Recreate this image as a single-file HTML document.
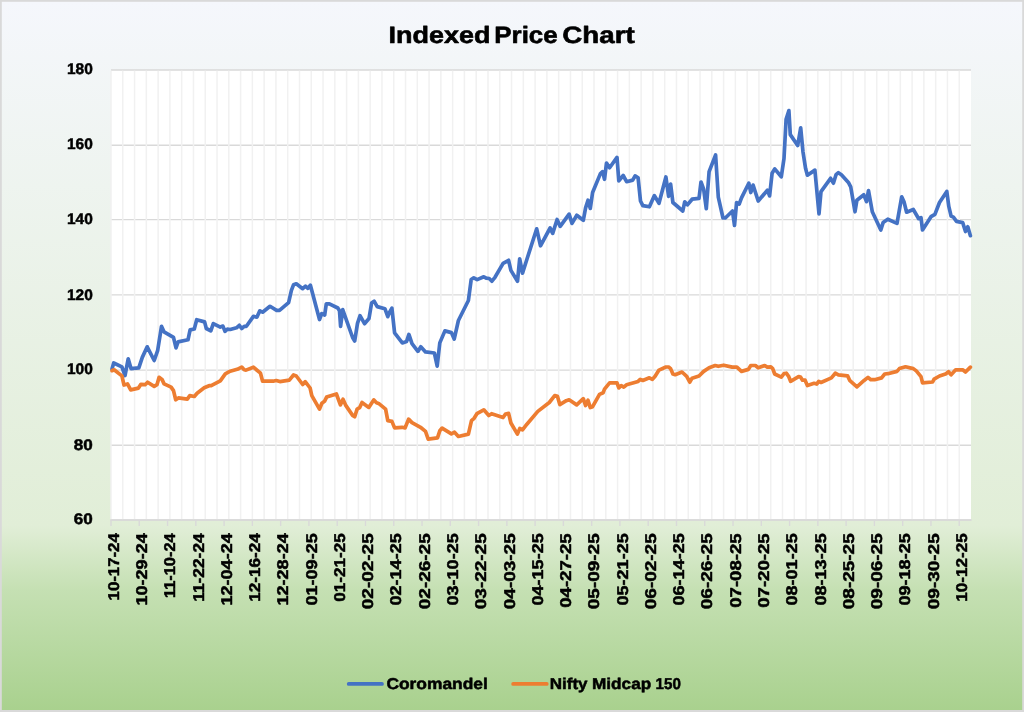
<!DOCTYPE html>
<html><head><meta charset="utf-8"><title>Indexed Price Chart</title>
<style>
html,body{margin:0;padding:0;background:#fff;}
body{width:1024px;height:712px;overflow:hidden;font-family:"Liberation Sans",sans-serif;}
svg{display:block;}
text{font-family:"Liberation Sans",sans-serif;font-weight:bold;fill:#000;text-rendering:geometricPrecision;}
svg{will-change:transform;}
</style></head><body>
<svg width="1024" height="712" viewBox="0 0 1024 712">
<defs>
<linearGradient id="bg" x1="0" y1="0" x2="0" y2="1">
<stop offset="0" stop-color="#F5F7FC"/>
<stop offset="0.74" stop-color="#E1EED7"/>
<stop offset="0.83" stop-color="#C5E0B3"/>
<stop offset="1" stop-color="#A9D18E"/>
</linearGradient>
</defs>
<rect x="0" y="0" width="1024" height="712" fill="#D9D9D9"/>
<rect x="1.8" y="1.8" width="1020.4" height="708.2" fill="url(#bg)"/>

<rect x="111.0" y="70.0" width="860.0" height="450.0" fill="#FFFFFF"/>
<g stroke="#D9D9D9" stroke-width="1.4">
<line x1="111.0" y1="70.0" x2="971.0" y2="70.0"/>
<line x1="111.0" y1="145.3" x2="971.0" y2="145.3"/>
<line x1="111.0" y1="219.6" x2="971.0" y2="219.6"/>
<line x1="111.0" y1="294.9" x2="971.0" y2="294.9"/>
<line x1="111.0" y1="370.1" x2="971.0" y2="370.1"/>
<line x1="111.0" y1="445.2" x2="971.0" y2="445.2"/>
<line x1="111.0" y1="520.0" x2="971.0" y2="520.0"/>
</g>
<g stroke="#F1F1F1" stroke-width="1.5">
<line x1="111.00" y1="70.7" x2="111.00" y2="519.3"/>
<line x1="122.78" y1="70.7" x2="122.78" y2="519.3"/>
<line x1="134.56" y1="70.7" x2="134.56" y2="519.3"/>
<line x1="146.34" y1="70.7" x2="146.34" y2="519.3"/>
<line x1="158.12" y1="70.7" x2="158.12" y2="519.3"/>
<line x1="169.90" y1="70.7" x2="169.90" y2="519.3"/>
<line x1="181.68" y1="70.7" x2="181.68" y2="519.3"/>
<line x1="193.47" y1="70.7" x2="193.47" y2="519.3"/>
<line x1="205.25" y1="70.7" x2="205.25" y2="519.3"/>
<line x1="217.03" y1="70.7" x2="217.03" y2="519.3"/>
<line x1="228.81" y1="70.7" x2="228.81" y2="519.3"/>
<line x1="240.59" y1="70.7" x2="240.59" y2="519.3"/>
<line x1="252.37" y1="70.7" x2="252.37" y2="519.3"/>
<line x1="264.15" y1="70.7" x2="264.15" y2="519.3"/>
<line x1="275.93" y1="70.7" x2="275.93" y2="519.3"/>
<line x1="287.71" y1="70.7" x2="287.71" y2="519.3"/>
<line x1="299.49" y1="70.7" x2="299.49" y2="519.3"/>
<line x1="311.27" y1="70.7" x2="311.27" y2="519.3"/>
<line x1="323.05" y1="70.7" x2="323.05" y2="519.3"/>
<line x1="334.84" y1="70.7" x2="334.84" y2="519.3"/>
<line x1="346.62" y1="70.7" x2="346.62" y2="519.3"/>
<line x1="358.40" y1="70.7" x2="358.40" y2="519.3"/>
<line x1="370.18" y1="70.7" x2="370.18" y2="519.3"/>
<line x1="381.96" y1="70.7" x2="381.96" y2="519.3"/>
<line x1="393.74" y1="70.7" x2="393.74" y2="519.3"/>
<line x1="405.52" y1="70.7" x2="405.52" y2="519.3"/>
<line x1="417.30" y1="70.7" x2="417.30" y2="519.3"/>
<line x1="429.08" y1="70.7" x2="429.08" y2="519.3"/>
<line x1="440.86" y1="70.7" x2="440.86" y2="519.3"/>
<line x1="452.64" y1="70.7" x2="452.64" y2="519.3"/>
<line x1="464.42" y1="70.7" x2="464.42" y2="519.3"/>
<line x1="476.21" y1="70.7" x2="476.21" y2="519.3"/>
<line x1="487.99" y1="70.7" x2="487.99" y2="519.3"/>
<line x1="499.77" y1="70.7" x2="499.77" y2="519.3"/>
<line x1="511.55" y1="70.7" x2="511.55" y2="519.3"/>
<line x1="523.33" y1="70.7" x2="523.33" y2="519.3"/>
<line x1="535.11" y1="70.7" x2="535.11" y2="519.3"/>
<line x1="546.89" y1="70.7" x2="546.89" y2="519.3"/>
<line x1="558.67" y1="70.7" x2="558.67" y2="519.3"/>
<line x1="570.45" y1="70.7" x2="570.45" y2="519.3"/>
<line x1="582.23" y1="70.7" x2="582.23" y2="519.3"/>
<line x1="594.01" y1="70.7" x2="594.01" y2="519.3"/>
<line x1="605.79" y1="70.7" x2="605.79" y2="519.3"/>
<line x1="617.58" y1="70.7" x2="617.58" y2="519.3"/>
<line x1="629.36" y1="70.7" x2="629.36" y2="519.3"/>
<line x1="641.14" y1="70.7" x2="641.14" y2="519.3"/>
<line x1="652.92" y1="70.7" x2="652.92" y2="519.3"/>
<line x1="664.70" y1="70.7" x2="664.70" y2="519.3"/>
<line x1="676.48" y1="70.7" x2="676.48" y2="519.3"/>
<line x1="688.26" y1="70.7" x2="688.26" y2="519.3"/>
<line x1="700.04" y1="70.7" x2="700.04" y2="519.3"/>
<line x1="711.82" y1="70.7" x2="711.82" y2="519.3"/>
<line x1="723.60" y1="70.7" x2="723.60" y2="519.3"/>
<line x1="735.38" y1="70.7" x2="735.38" y2="519.3"/>
<line x1="747.16" y1="70.7" x2="747.16" y2="519.3"/>
<line x1="758.95" y1="70.7" x2="758.95" y2="519.3"/>
<line x1="770.73" y1="70.7" x2="770.73" y2="519.3"/>
<line x1="782.51" y1="70.7" x2="782.51" y2="519.3"/>
<line x1="794.29" y1="70.7" x2="794.29" y2="519.3"/>
<line x1="806.07" y1="70.7" x2="806.07" y2="519.3"/>
<line x1="817.85" y1="70.7" x2="817.85" y2="519.3"/>
<line x1="829.63" y1="70.7" x2="829.63" y2="519.3"/>
<line x1="841.41" y1="70.7" x2="841.41" y2="519.3"/>
<line x1="853.19" y1="70.7" x2="853.19" y2="519.3"/>
<line x1="864.97" y1="70.7" x2="864.97" y2="519.3"/>
<line x1="876.75" y1="70.7" x2="876.75" y2="519.3"/>
<line x1="888.53" y1="70.7" x2="888.53" y2="519.3"/>
<line x1="900.32" y1="70.7" x2="900.32" y2="519.3"/>
<line x1="912.10" y1="70.7" x2="912.10" y2="519.3"/>
<line x1="923.88" y1="70.7" x2="923.88" y2="519.3"/>
<line x1="935.66" y1="70.7" x2="935.66" y2="519.3"/>
<line x1="947.44" y1="70.7" x2="947.44" y2="519.3"/>
<line x1="959.22" y1="70.7" x2="959.22" y2="519.3"/>
</g>
<line x1="110.3" y1="520.0" x2="971.7" y2="520.0" stroke="#D9D9D9" stroke-width="1.4"/>
<g stroke="#D9D9D9" stroke-width="1.4">
<line x1="111.00" y1="520.0" x2="111.00" y2="526.0"/>
<line x1="139.27" y1="520.0" x2="139.27" y2="526.0"/>
<line x1="167.55" y1="520.0" x2="167.55" y2="526.0"/>
<line x1="195.82" y1="520.0" x2="195.82" y2="526.0"/>
<line x1="224.10" y1="520.0" x2="224.10" y2="526.0"/>
<line x1="252.37" y1="520.0" x2="252.37" y2="526.0"/>
<line x1="280.64" y1="520.0" x2="280.64" y2="526.0"/>
<line x1="308.92" y1="520.0" x2="308.92" y2="526.0"/>
<line x1="337.19" y1="520.0" x2="337.19" y2="526.0"/>
<line x1="365.47" y1="520.0" x2="365.47" y2="526.0"/>
<line x1="393.74" y1="520.0" x2="393.74" y2="526.0"/>
<line x1="422.01" y1="520.0" x2="422.01" y2="526.0"/>
<line x1="450.29" y1="520.0" x2="450.29" y2="526.0"/>
<line x1="478.56" y1="520.0" x2="478.56" y2="526.0"/>
<line x1="506.84" y1="520.0" x2="506.84" y2="526.0"/>
<line x1="535.11" y1="520.0" x2="535.11" y2="526.0"/>
<line x1="563.38" y1="520.0" x2="563.38" y2="526.0"/>
<line x1="591.66" y1="520.0" x2="591.66" y2="526.0"/>
<line x1="619.93" y1="520.0" x2="619.93" y2="526.0"/>
<line x1="648.21" y1="520.0" x2="648.21" y2="526.0"/>
<line x1="676.48" y1="520.0" x2="676.48" y2="526.0"/>
<line x1="704.75" y1="520.0" x2="704.75" y2="526.0"/>
<line x1="733.03" y1="520.0" x2="733.03" y2="526.0"/>
<line x1="761.30" y1="520.0" x2="761.30" y2="526.0"/>
<line x1="789.58" y1="520.0" x2="789.58" y2="526.0"/>
<line x1="817.85" y1="520.0" x2="817.85" y2="526.0"/>
<line x1="846.12" y1="520.0" x2="846.12" y2="526.0"/>
<line x1="874.40" y1="520.0" x2="874.40" y2="526.0"/>
<line x1="902.67" y1="520.0" x2="902.67" y2="526.0"/>
<line x1="930.95" y1="520.0" x2="930.95" y2="526.0"/>
<line x1="959.22" y1="520.0" x2="959.22" y2="526.0"/>
</g>
<g font-size="15.3" text-anchor="end" stroke="#000" stroke-width="0.5" stroke-linejoin="round">
<text x="92.8" y="74.1" textLength="25.8" lengthAdjust="spacingAndGlyphs">180</text>
<text x="92.8" y="149.2" textLength="25.8" lengthAdjust="spacingAndGlyphs">160</text>
<text x="92.8" y="224.3" textLength="25.8" lengthAdjust="spacingAndGlyphs">140</text>
<text x="92.8" y="299.9" textLength="25.8" lengthAdjust="spacingAndGlyphs">120</text>
<text x="92.8" y="374.1" textLength="25.8" lengthAdjust="spacingAndGlyphs">100</text>
<text x="92.8" y="450.1" textLength="19.0" lengthAdjust="spacingAndGlyphs">80</text>
<text x="92.8" y="524.4" textLength="19.0" lengthAdjust="spacingAndGlyphs">60</text>
</g>
<g font-size="15.6" text-anchor="end" stroke="#000" stroke-width="0.5" stroke-linejoin="round">
<text transform="translate(118.70,533.3) rotate(-90)" textLength="67.1" lengthAdjust="spacingAndGlyphs">10-17-24</text>
<text transform="translate(146.97,533.3) rotate(-90)" textLength="72.2" lengthAdjust="spacingAndGlyphs">10-29-24</text>
<text transform="translate(175.25,533.3) rotate(-90)" textLength="64.8" lengthAdjust="spacingAndGlyphs">11-10-24</text>
<text transform="translate(203.52,533.3) rotate(-90)" textLength="68.5" lengthAdjust="spacingAndGlyphs">11-22-24</text>
<text transform="translate(231.80,533.3) rotate(-90)" textLength="72.2" lengthAdjust="spacingAndGlyphs">12-04-24</text>
<text transform="translate(260.07,533.3) rotate(-90)" textLength="68.5" lengthAdjust="spacingAndGlyphs">12-16-24</text>
<text transform="translate(288.34,533.3) rotate(-90)" textLength="72.2" lengthAdjust="spacingAndGlyphs">12-28-24</text>
<text transform="translate(316.62,533.3) rotate(-90)" textLength="72.2" lengthAdjust="spacingAndGlyphs">01-09-25</text>
<text transform="translate(344.89,533.3) rotate(-90)" textLength="68.5" lengthAdjust="spacingAndGlyphs">01-21-25</text>
<text transform="translate(373.17,533.3) rotate(-90)" textLength="75.9" lengthAdjust="spacingAndGlyphs">02-02-25</text>
<text transform="translate(401.44,533.3) rotate(-90)" textLength="72.2" lengthAdjust="spacingAndGlyphs">02-14-25</text>
<text transform="translate(429.71,533.3) rotate(-90)" textLength="75.9" lengthAdjust="spacingAndGlyphs">02-26-25</text>
<text transform="translate(457.99,533.3) rotate(-90)" textLength="72.2" lengthAdjust="spacingAndGlyphs">03-10-25</text>
<text transform="translate(486.26,533.3) rotate(-90)" textLength="75.9" lengthAdjust="spacingAndGlyphs">03-22-25</text>
<text transform="translate(514.54,533.3) rotate(-90)" textLength="75.9" lengthAdjust="spacingAndGlyphs">04-03-25</text>
<text transform="translate(542.81,533.3) rotate(-90)" textLength="72.2" lengthAdjust="spacingAndGlyphs">04-15-25</text>
<text transform="translate(571.08,533.3) rotate(-90)" textLength="74.5" lengthAdjust="spacingAndGlyphs">04-27-25</text>
<text transform="translate(599.36,533.3) rotate(-90)" textLength="75.9" lengthAdjust="spacingAndGlyphs">05-09-25</text>
<text transform="translate(627.63,533.3) rotate(-90)" textLength="72.2" lengthAdjust="spacingAndGlyphs">05-21-25</text>
<text transform="translate(655.91,533.3) rotate(-90)" textLength="75.9" lengthAdjust="spacingAndGlyphs">06-02-25</text>
<text transform="translate(684.18,533.3) rotate(-90)" textLength="72.2" lengthAdjust="spacingAndGlyphs">06-14-25</text>
<text transform="translate(712.45,533.3) rotate(-90)" textLength="75.9" lengthAdjust="spacingAndGlyphs">06-26-25</text>
<text transform="translate(740.73,533.3) rotate(-90)" textLength="74.5" lengthAdjust="spacingAndGlyphs">07-08-25</text>
<text transform="translate(769.00,533.3) rotate(-90)" textLength="74.5" lengthAdjust="spacingAndGlyphs">07-20-25</text>
<text transform="translate(797.28,533.3) rotate(-90)" textLength="72.2" lengthAdjust="spacingAndGlyphs">08-01-25</text>
<text transform="translate(825.55,533.3) rotate(-90)" textLength="72.2" lengthAdjust="spacingAndGlyphs">08-13-25</text>
<text transform="translate(853.82,533.3) rotate(-90)" textLength="75.9" lengthAdjust="spacingAndGlyphs">08-25-25</text>
<text transform="translate(882.10,533.3) rotate(-90)" textLength="75.9" lengthAdjust="spacingAndGlyphs">09-06-25</text>
<text transform="translate(910.37,533.3) rotate(-90)" textLength="72.2" lengthAdjust="spacingAndGlyphs">09-18-25</text>
<text transform="translate(938.65,533.3) rotate(-90)" textLength="75.9" lengthAdjust="spacingAndGlyphs">09-30-25</text>
<text transform="translate(966.92,533.3) rotate(-90)" textLength="68.5" lengthAdjust="spacingAndGlyphs">10-12-25</text>
</g>
<polyline fill="none" stroke="#4472C4" stroke-width="3.7" stroke-linejoin="round" stroke-linecap="round" points="112.0,369.0 113.7,363.0 121.9,366.9 125.0,375.6 128.2,358.8 131.0,368.6 138.8,367.9 142.3,357.4 147.2,346.8 154.2,360.5 157.7,350.3 161.5,326.4 164.0,331.8 173.5,337.4 176.0,347.9 178.1,341.9 188.0,339.8 190.1,329.9 194.3,329.0 196.7,319.7 204.6,321.9 206.3,328.5 210.8,330.9 213.3,323.6 220.3,327.1 222.9,326.1 225.0,331.3 227.4,329.2 230.2,329.5 236.5,327.8 239.3,325.3 241.7,328.5 244.2,326.4 246.4,326.3 253.4,316.4 257.0,317.1 259.8,310.8 262.6,312.2 270.0,306.3 276.6,310.4 279.5,310.4 288.6,302.6 291.4,290.4 293.5,284.8 296.3,283.8 302.7,288.7 305.5,286.2 307.9,288.3 310.4,285.2 319.5,319.5 321.7,313.6 324.7,315.0 326.3,303.8 329.4,303.8 337.8,308.0 339.5,310.8 340.6,326.3 342.7,309.7 352.6,337.5 354.7,341.0 357.5,323.4 360.0,315.7 364.5,323.7 369.0,318.5 371.6,303.0 374.1,301.2 377.2,306.6 384.9,308.7 387.8,316.7 389.6,312.1 391.9,308.2 394.6,332.9 402.3,342.9 406.6,341.4 408.9,334.4 412.0,343.7 417.9,351.4 420.8,346.8 425.5,351.9 434.4,353.0 437.2,366.1 439.8,342.9 444.9,330.9 451.4,332.6 454.2,339.1 458.4,320.5 468.4,300.5 471.2,279.6 473.8,277.8 477.2,279.6 483.8,276.8 486.2,278.1 489.2,278.5 491.9,281.2 495.0,277.3 503.1,263.4 508.6,260.3 510.9,270.4 517.5,281.2 519.7,258.8 522.5,273.1 527.0,259.0 536.7,228.8 540.5,245.8 550.1,228.0 552.7,233.4 557.1,219.5 560.2,226.4 569.1,214.1 572.0,223.4 576.8,215.3 583.3,220.3 585.6,207.9 588.0,200.2 590.3,208.4 592.6,192.5 600.3,173.9 602.6,171.6 604.5,179.3 606.5,163.1 609.6,167.8 617.0,157.4 618.8,180.9 623.2,175.5 626.6,181.7 632.7,180.1 635.1,175.9 638.1,177.8 640.5,201.0 642.8,205.6 649.4,206.8 654.4,195.6 659.0,203.3 665.9,177.0 668.6,196.3 670.6,184.0 672.9,202.5 682.8,211.0 684.7,201.8 687.4,204.9 692.1,199.2 699.0,198.4 701.0,182.0 703.7,189.4 706.3,208.7 709.1,171.7 715.6,155.0 718.3,197.1 723.0,218.0 725.3,218.0 732.5,211.0 734.5,225.4 736.6,202.5 739.2,204.1 741.5,197.9 748.8,183.2 750.8,192.5 753.1,185.1 758.2,201.0 767.4,190.2 769.6,195.9 772.1,173.2 774.7,168.9 781.3,176.8 784.0,158.5 786.1,119.4 788.9,110.6 790.3,134.6 797.7,145.5 800.7,127.9 803.0,152.0 805.6,168.6 807.4,175.2 814.9,170.1 819.0,213.8 821.0,191.7 830.6,178.3 833.4,183.2 836.0,174.7 838.4,172.7 841.4,174.7 848.4,182.4 850.7,186.8 855.0,211.8 856.9,200.2 863.8,194.8 866.5,201.7 868.5,190.5 872.3,211.8 880.8,230.0 883.1,222.6 887.8,219.2 897.0,223.4 901.7,196.8 904.0,201.7 906.6,212.2 913.3,209.5 918.7,218.7 921.0,217.6 922.5,230.0 931.0,216.7 934.9,214.4 939.5,202.5 946.8,191.4 948.8,206.4 951.1,216.1 953.4,217.2 956.5,221.4 962.7,222.6 965.5,231.5 967.8,226.8 970.4,235.7"/>
<polyline fill="none" stroke="#ED7D31" stroke-width="3.7" stroke-linejoin="round" stroke-linecap="round" points="112.0,370.7 114.1,369.8 121.9,375.9 124.0,385.0 127.5,383.9 130.7,389.9 138.5,388.1 140.9,384.3 145.1,384.7 147.6,382.2 154.2,386.4 157.0,384.7 159.1,377.3 162.0,379.4 164.1,383.9 171.1,387.1 173.5,390.6 175.7,399.8 178.4,397.9 187.3,399.1 189.8,395.6 194.3,396.5 197.1,393.2 204.2,387.8 209.1,385.7 211.2,385.7 220.3,380.8 225.3,373.8 230.2,371.2 237.2,369.3 241.7,367.1 244.2,369.8 246.0,370.1 253.4,367.2 260.5,373.2 262.6,381.2 273.1,381.2 276.2,380.5 279.9,381.6 289.3,380.2 293.5,375.0 296.3,376.0 302.7,384.5 305.2,381.6 310.1,388.0 311.8,395.7 319.5,409.1 321.9,403.2 324.5,401.3 326.6,397.1 336.4,394.0 340.4,404.9 343.0,399.2 345.6,405.1 352.6,415.4 354.7,416.8 357.1,409.1 359.6,407.7 362.0,402.5 368.8,407.4 373.7,399.9 376.5,402.7 378.6,403.4 385.6,409.1 387.8,420.6 391.9,421.4 394.6,427.9 402.0,427.3 405.1,427.9 408.6,419.1 412.0,422.6 420.5,427.3 425.5,431.4 428.2,439.2 437.5,437.9 439.8,430.7 442.1,428.1 451.4,433.8 454.5,432.2 458.4,436.5 468.4,434.1 471.5,420.6 474.1,418.3 476.9,413.7 483.8,409.8 488.8,415.5 491.6,413.7 503.1,417.5 505.5,414.0 508.6,413.4 510.9,423.0 517.4,434.1 519.8,428.4 522.5,429.9 526.9,424.2 537.8,411.4 549.3,402.5 554.7,395.6 557.5,396.4 559.8,404.6 566.3,400.7 569.1,399.8 576.7,404.9 583.3,398.7 585.6,405.6 588.0,400.2 590.3,407.6 592.6,406.7 599.5,394.4 603.1,392.8 604.5,389.1 609.6,382.9 617.0,382.9 618.8,387.9 621.2,385.6 623.8,387.1 626.6,384.8 638.1,381.4 640.2,379.4 642.8,380.5 649.4,377.8 652.4,379.4 655.1,376.3 659.0,370.1 665.9,367.0 668.6,367.0 670.6,368.6 672.9,374.0 675.2,374.7 682.0,372.0 686.7,376.3 689.8,382.2 692.1,378.2 699.0,376.0 703.7,371.4 709.1,367.8 715.2,365.5 718.3,366.3 723.7,365.2 732.2,367.1 736.9,367.1 741.5,371.4 748.4,369.4 750.8,365.5 755.4,365.5 758.2,367.8 764.7,365.5 767.3,367.1 770.8,366.8 772.7,368.6 774.7,374.0 781.3,377.1 784.0,373.6 786.3,373.2 788.6,376.3 790.6,381.3 798.6,376.6 800.5,377.1 802.5,380.2 805.1,380.2 807.4,385.6 814.1,383.3 816.7,384.1 818.7,381.4 821.0,382.5 831.4,377.9 835.3,373.2 838.4,374.8 847.6,375.9 849.9,380.7 856.9,386.8 863.8,380.7 868.0,377.4 870.8,379.7 874.6,379.7 881.6,377.9 884.7,374.0 887.8,373.7 897.0,371.4 899.4,368.6 905.5,366.8 913.3,368.6 916.3,370.9 921.0,376.6 922.5,382.8 932.6,382.0 934.1,379.1 939.5,376.0 946.2,373.7 948.5,371.7 951.1,374.8 955.7,369.8 962.7,369.8 965.5,372.0 970.4,367.1"/>
<g font-size="23.6" stroke="#000" stroke-width="0.6" stroke-linejoin="round">
<text x="388.6" y="43.3" textLength="102" lengthAdjust="spacingAndGlyphs">Indexed</text>
<text x="494.3" y="43.3" textLength="63.4" lengthAdjust="spacingAndGlyphs">Price</text>
<text x="562.3" y="43.3" textLength="72.4" lengthAdjust="spacingAndGlyphs">Chart</text>
</g>
<line x1="348.7" y1="683.9" x2="382" y2="683.9" stroke="#4472C4" stroke-width="3.7" stroke-linecap="round"/>
<g font-size="15.6" stroke="#000" stroke-width="0.5" stroke-linejoin="round">
<text x="386.4" y="688.8" textLength="101.5" lengthAdjust="spacingAndGlyphs">Coromandel</text>
<line x1="513.1" y1="683.9" x2="546.8" y2="683.9" stroke="#ED7D31" stroke-width="3.7" stroke-linecap="round"/>
<text x="549.7" y="688.8" textLength="37.9" lengthAdjust="spacingAndGlyphs">Nifty</text>
<text x="592.0" y="688.8" textLength="59.2" lengthAdjust="spacingAndGlyphs">Midcap</text>
<text x="655.6" y="688.8" textLength="25.3" lengthAdjust="spacingAndGlyphs">150</text>
</g>
</svg></body></html>
